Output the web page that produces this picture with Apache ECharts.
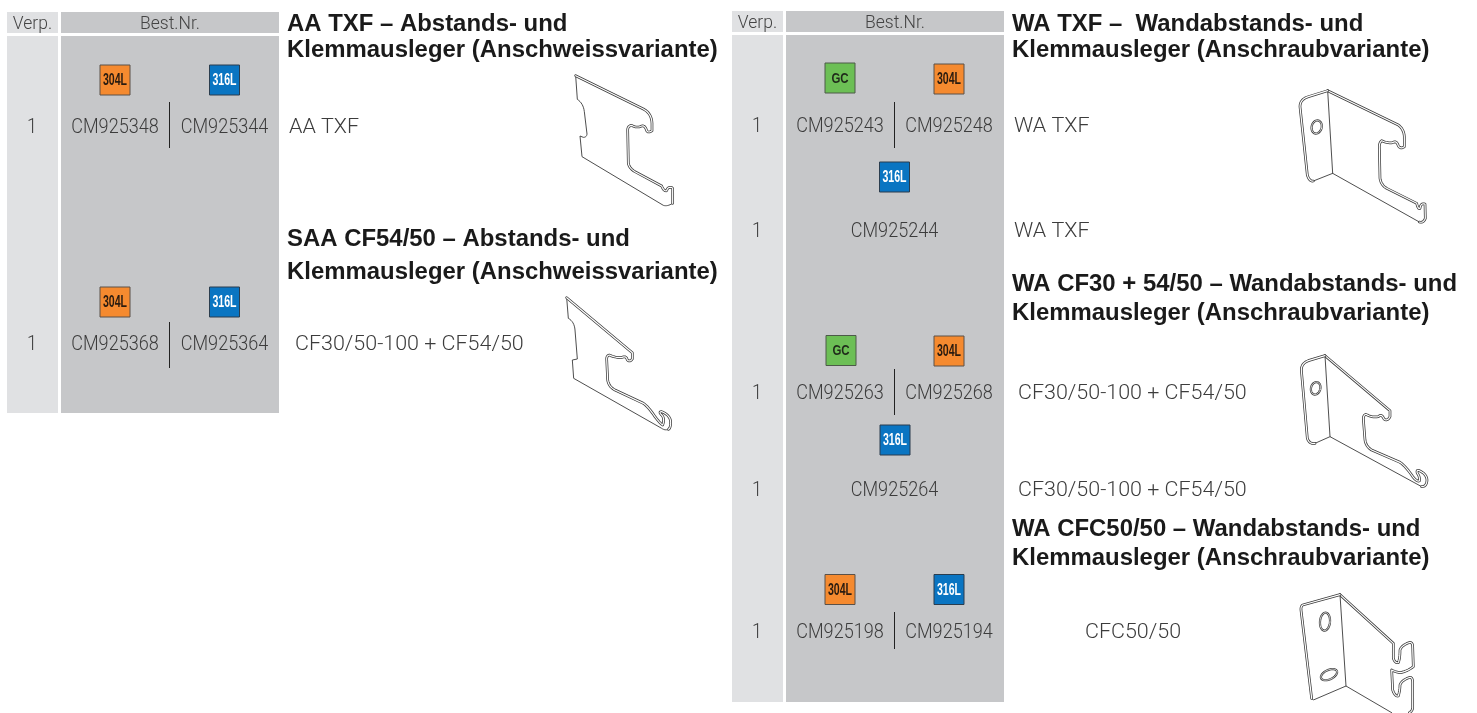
<!DOCTYPE html>
<html><head><meta charset="utf-8">
<style>html,body{margin:0;padding:0;background:#fff}#c{width:1477px;height:713px}</style>
<script src="https://cdn.jsdelivr.net/npm/echarts@6/dist/echarts.min.js"></script>
</head><body><div id="c"></div>
<script>
// ---- content ----
const headerLabels = ['Verp.', 'Best.Nr.'];
const sectionTitles = [
  ['AA TXF – Abstands- und', 'Klemmausleger (Anschweissvariante)'],
  ['SAA CF54/50 – Abstands- und', 'Klemmausleger (Anschweissvariante)'],
  ['WA TXF –  Wandabstands- und', 'Klemmausleger (Anschraubvariante)'],
  ['WA CF30 + 54/50 – Wandabstands- und', 'Klemmausleger (Anschraubvariante)'],
  ['WA CFC50/50 – Wandabstands- und', 'Klemmausleger (Anschraubvariante)']
];
const packQuantities = ['1', '1', '1', '1', '1', '1', '1'];
const orderNumbers = [
  ['CM925348', 'CM925344'], ['CM925368', 'CM925364'],
  ['CM925243', 'CM925248'], ['CM925244'],
  ['CM925263', 'CM925268'], ['CM925264'],
  ['CM925198', 'CM925194']
];
const productTypes = ['AA TXF', 'CF30/50-100 + CF54/50', 'WA TXF', 'WA TXF', 'CF30/50-100 + CF54/50', 'CF30/50-100 + CF54/50', 'CFC50/50'];
const materialBadges = [
  ['304L', '316L'], ['304L', '316L'],
  ['GC', '304L'], ['316L'],
  ['GC', '304L'], ['316L'],
  ['304L', '316L']
];

// ---- layout and styles ----
const BLACK = '#1a1a1a', BODY = '#3c3c3c', LIGHT = '#e0e1e3', MID = '#c6c7c9';
const FONT = '"Liberation Sans", Arial, sans-serif';
const LIGHTFONT = 'Roboto, "Liberation Sans", sans-serif';
const badgeStyle = {
  '304L': {fill: '#f58a2f', text: '#2a1c10', border: '#5b5148'},
  '316L': {fill: '#0a75c2', text: '#ffffff', border: '#2a3d4e'},
  'GC':   {fill: '#6cbf55', text: '#1f2a1a', border: '#4c5a48'}
};
const tableLayout = [
  {verp: [7, 58], best: [61, 279], head: [12, 33], body: [36, 413]},
  {verp: [732, 783], best: [786, 1004], head: [11, 32], body: [35, 702]}
];
const titleLayout = [[287, 23, 49], [287, 238, 271], [1012, 23, 49], [1012, 283, 312], [1012, 528, 557]];
const rowLayout = [
  {vx: 32, nx: [115, 224.5], y: 126, tx: 289, bx: [115, 224.5], by: [80, 80], div: [169.5, 102, 148]},
  {vx: 32, nx: [115, 224.5], y: 343, tx: 295, bx: [115, 224.5], by: [302, 302], div: [169.5, 322, 368]},
  {vx: 757, nx: [840, 949], y: 125, tx: 1014, bx: [840, 949], by: [78, 79], div: [894.5, 102, 148]},
  {vx: 757, nx: [894.5], y: 230, tx: 1014, bx: [894.5], by: [177], div: null},
  {vx: 757, nx: [840, 949], y: 392, tx: 1018, bx: [841, 949], by: [350.5, 351], div: [894.5, 369, 415]},
  {vx: 757, nx: [894.5], y: 489, tx: 1018, bx: [895], by: [440], div: null},
  {vx: 757, nx: [840, 949], y: 631, tx: 1085, bx: [840, 949], by: [589.5, 589.5], div: [894.5, 612, 649]}
];

// Line drawings of the brackets, written in 3x crop coordinates
const drawings = [
  {o: [530, 60], thick: ['M137 47 L340 147 Q365 160 366 190 L366 212 Q355 220 350 212 Q345 195 335 198 Q320 205 305 196 Q293 198 293 210 L295 310 Q298 325 315 335 L395 378 Q402 395 410 392 Q413 380 425 382 L428 385 L428 430'],
   thin: ['M137 47 L142 118 Q160 130 163 155 L171 222 Q170 232 160 232 L150 228 L156 290 L400 436 Q412 440 428 430'], holes: []},
  {o: [530, 285], thick: ['M110 38 L307 203 L307 222 Q300 232 292 225 Q288 210 275 218 Q255 218 238 210 Q230 212 230 222 L233 285 Q236 305 255 315 L340 355 Q355 365 375 395 Q390 415 398 420 Q405 400 395 390 Q385 380 395 380 Q420 390 422 410 Q422 430 415 433'],
   thin: ['M110 38 L115 100 Q133 110 135 135 L142 222 L127 225 L131 280 L395 430 Q405 437 415 433'], holes: []},
  {o: [1280, 80], thick: ['M143 32 L355 135 Q372 148 373 170 L373 200 Q362 208 355 198 Q350 180 338 188 Q320 190 305 182 Q298 188 298 200 L300 295 Q303 315 320 325 L410 370 Q415 390 420 385 Q422 368 435 372 L436 415 Q430 430 418 426',
    'M143 32 L85 50 Q60 58 60 80 L82 285 Q88 305 100 303'],
   thin: ['M143 32 L158 280 L418 426', 'M100 303 L158 280'], holes: [[110, 141, 15, 20, 15]]},
  {o: [1280, 345], thick: ['M135 32 L330 197 L330 215 Q322 230 312 222 Q305 205 295 215 Q275 218 258 208 Q250 210 250 222 L255 285 Q258 305 275 315 L360 352 Q375 362 395 390 Q408 410 418 408 Q420 395 412 385 Q408 372 420 378 Q440 388 441 405 Q440 425 425 425',
    'M135 32 L85 47 Q64 55 64 75 L82 280 Q88 298 105 295'],
   thin: ['M135 32 L150 275 L425 425', 'M105 295 L150 275'], holes: [[107, 130, 14, 19, 15]]},
  {o: [1280, 590], thick: ['M180 14 L340 160 L340 205 Q345 220 355 218 Q360 205 360 180 Q365 165 390 157 Q398 158 398 170 L400 230 Q380 245 360 248 Q345 245 335 240 L338 300 Q345 320 355 318 Q360 300 360 285 Q365 270 390 262 Q397 262 398 275 L398 355 Q395 365 388 368',
    'M180 14 L68 45 Q62 50 63 60 L95 325'],
   thin: ['M180 14 L198 288', 'M95 325 L100 330 L198 288 L335 368'], holes: [[135, 95, 15, 27, 5], [147, 254, 26, 14, -25]]}
];

// ---- building the option ----
function flatten(d, o) {
  const toks = d.trim().split(/\s+/), pts = [];
  let cur = null;
  const read = s => s.replace(/^[MLQ]/, '');
  for (let i = 0; i < toks.length;) {
    const cmd = toks[i][0];
    if (cmd === 'Q') {
      const cx = +read(toks[i]), cy = +toks[i + 1], ex = +toks[i + 2], ey = +toks[i + 3];
      for (let k = 1; k <= 8; k++) {
        const t = k / 8, u = 1 - t;
        pts.push([u * u * cur[0] + 2 * u * t * cx + t * t * ex, u * u * cur[1] + 2 * u * t * cy + t * t * ey]);
      }
      cur = [ex, ey]; i += 4;
    } else {
      cur = [+read(toks[i]), +toks[i + 1]]; pts.push(cur); i += 2;
    }
  }
  return pts.map(p => [o[0] + p[0] / 3, o[1] + p[1] / 3]);
}
function ellipsePoints(h, o) {
  const [cx, cy, rx, ry, rot] = h, r = rot * Math.PI / 180, pts = [];
  for (let i = 0; i <= 36; i++) {
    const t = i / 36 * 2 * Math.PI, x = rx * Math.cos(t), y = ry * Math.sin(t);
    pts.push([o[0] + (cx + x * Math.cos(r) - y * Math.sin(r)) / 3, o[1] + (cy + x * Math.sin(r) + y * Math.cos(r)) / 3]);
  }
  return pts;
}
const strokes = [];
drawings.forEach(dr => {
  dr.thin.forEach(p => strokes.push({pts: flatten(p, dr.o), c: '#3a3a3a', w: 0.9}));
  dr.thick.forEach(p => { const pts = flatten(p, dr.o); strokes.push({pts, c: '#3a3a3a', w: 2.7}, {pts, c: '#fff', w: 1.2}); });
  dr.holes.forEach(h => { const pts = ellipsePoints(h, dr.o); strokes.push({pts, c: '#3a3a3a', w: 2.2}, {pts, c: '#fff', w: 0.8}); });
});
const strokeData = strokes.map((s, i) => [s.pts[0][0], s.pts[0][1], i]);

const rectData = [];
tableLayout.forEach(t => {
  rectData.push([t.verp[0], t.head[0], t.verp[1], t.head[1], LIGHT], [t.best[0], t.head[0], t.best[1], t.head[1], MID],
                [t.verp[0], t.body[0], t.verp[1], t.body[1], LIGHT], [t.best[0], t.body[0], t.best[1], t.body[1], MID]);
});
// text rows: x, y, string, font, colour, align, horizontal scale
const textData = [];
const bodyFont = '300 21px ' + LIGHTFONT, headFont = '300 17.5px ' + LIGHTFONT, titleFont = 'bold 23px ' + FONT;
tableLayout.forEach(t => {
  const y = (t.head[0] + t.head[1]) / 2;
  textData.push([(t.verp[0] + t.verp[1]) / 2, y, headerLabels[0], headFont, '#444', 'center', 1]);
  textData.push([(t.best[0] + t.best[1]) / 2, y, headerLabels[1], headFont, '#444', 'center', 1]);
});
sectionTitles.forEach((lines, i) => {
  const l = titleLayout[i];
  textData.push([l[0], l[1], lines[0], titleFont, BLACK, 'left', 1.04], [l[0], l[2], lines[1], titleFont, BLACK, 'left', 1.04]);
});
const lineData = [], badgeData = [];
rowLayout.forEach((r, i) => {
  textData.push([r.vx, r.y, packQuantities[i], bodyFont, BODY, 'center', 0.86]);
  orderNumbers[i].forEach((n, j) => textData.push([r.nx[j], r.y, n, bodyFont, BODY, 'center', 0.86]));
  textData.push([r.tx, r.y, productTypes[i], bodyFont, BODY, 'left', 1.022]);
  if (r.div) lineData.push([r.div[0], r.div[1], r.div[0], r.div[2]]);
  materialBadges[i].forEach((b, j) => badgeData.push([r.bx[j], r.by[j], b]));
});

const option = {
  animation: false,
  grid: {left: 0, right: 0, top: 0, bottom: 0},
  xAxis: {type: 'value', min: 0, max: 1477, show: false},
  yAxis: {type: 'value', min: 0, max: 713, inverse: true, show: false},
  series: [
    {type: 'custom', coordinateSystem: 'cartesian2d', data: rectData, silent: true, z: 1,
     dimensions: ['x0', 'y0', 'x1', 'y1', {name: 'fill', type: 'ordinal'}],
     encode: {x: [0, 2], y: [1, 3]},
     renderItem(p, api) {
       const a = api.coord([api.value(0), api.value(1)]), b = api.coord([api.value(2), api.value(3)]);
       return {type: 'rect', shape: {x: a[0], y: a[1], width: b[0] - a[0], height: b[1] - a[1]}, style: {fill: rectData[p.dataIndex][4]}};
     }},
    {type: 'custom', coordinateSystem: 'cartesian2d', data: lineData, silent: true, z: 2,
     encode: {x: [0, 2], y: [1, 3]},
     renderItem(p, api) {
       const a = api.coord([api.value(0), api.value(1)]), b = api.coord([api.value(2), api.value(3)]);
       return {type: 'line', shape: {x1: a[0], y1: a[1], x2: b[0], y2: b[1]}, style: {stroke: '#222', lineWidth: 1}};
     }},
    {type: 'custom', coordinateSystem: 'cartesian2d', data: strokeData, silent: true, z: 2,
     encode: {x: 0, y: 1},
     renderItem(p, api) {
       const s = strokes[p.dataIndex];
       return {type: 'polyline', shape: {points: s.pts.map(q => api.coord(q))},
         style: {fill: null, stroke: s.c, lineWidth: s.w, lineJoin: 'round', lineCap: 'round'}};
     }},
    {type: 'custom', coordinateSystem: 'cartesian2d', data: badgeData, silent: true, z: 3,
     dimensions: ['x', 'y', {name: 'k', type: 'ordinal'}], encode: {x: 0, y: 1},
     renderItem(p, api) {
       const c = api.coord([api.value(0), api.value(1)]), k = badgeData[p.dataIndex][2], s = badgeStyle[k];
       return {type: 'group', children: [
         {type: 'rect', shape: {x: c[0] - 15, y: c[1] - 15, width: 30, height: 30}, style: {fill: s.fill, stroke: s.border, lineWidth: 1}},
         {type: 'text', x: c[0], y: c[1] + 1, scaleX: k === 'GC' ? 0.82 : 0.66,
          style: {x: 0, y: 0, text: k, fill: s.text, align: 'center', verticalAlign: 'middle',
           font: k === 'GC' ? 'bold 14px ' + FONT : 'bold 16px ' + FONT}}
       ]};
     }},
    {type: 'custom', coordinateSystem: 'cartesian2d', data: textData, silent: true, z: 4,
     dimensions: ['x', 'y', {name: 's', type: 'ordinal'}, {name: 'f', type: 'ordinal'}, {name: 'c', type: 'ordinal'}, {name: 'a', type: 'ordinal'}, 'sx'],
     encode: {x: 0, y: 1},
     renderItem(p, api) {
       const d = textData[p.dataIndex], c = api.coord([d[0], d[1]]);
       return {type: 'text', x: c[0], y: c[1] + 2, scaleX: d[6],
         style: {x: 0, y: 0, text: d[2], fill: d[4], align: d[5], verticalAlign: 'middle', font: d[3]}};
     }}
  ]
};
echarts.init(document.getElementById('c'), null, {renderer: 'canvas'}).setOption(option);
</script></body></html>
